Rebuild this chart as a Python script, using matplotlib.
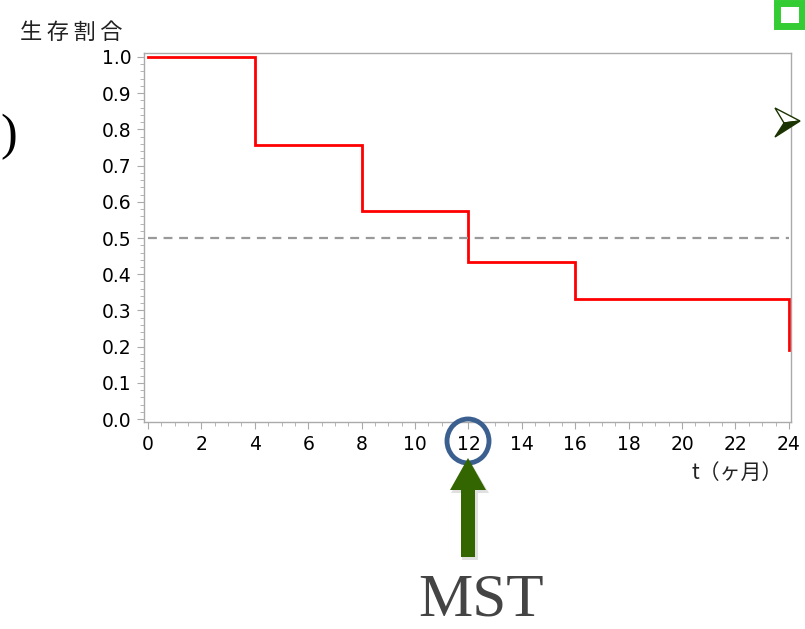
import matplotlib
matplotlib.use("Agg")
import matplotlib.pyplot as plt
from matplotlib.patches import Ellipse, Rectangle, Polygon, FancyArrow
from matplotlib.ticker import MultipleLocator

plt.rcParams['font.family'] = ['DejaVu Sans', 'Noto Sans CJK JP']

# 生存曲線のデータ
times = [0, 4, 8, 12, 16, 24]
survival = [1.0, 0.757, 0.575, 0.435, 0.331, 0.19]
x_ticks = list(range(0, 25, 2))
y_ticks = [i / 10 for i in range(11)]
mst = 12
median_level = 0.5

W, H = 805, 629
fig = plt.figure(figsize=(W / 100, H / 100), dpi=100)
ax = fig.add_axes([144 / W, 1 - 422 / H, (791 - 144) / W, (422 - 53) / H])

# ステップ状の生存曲線
xs, ys = [], []
for i, t in enumerate(times):
    if i > 0:
        xs.append(t)
        ys.append(survival[i - 1])
    xs.append(t)
    ys.append(survival[i])
ax.plot(xs, ys, color='red', lw=2, solid_joinstyle='miter')

ax.plot([times[0], times[-1]], [median_level, median_level], color='#999999', lw=1.6, ls=(0, (4, 3)))

ax.set_xlim(-0.15, 24.08)
ax.set_ylim(-0.008, 1.011)
ax.set_xticks(x_ticks)
ax.set_yticks(y_ticks)
ax.set_yticklabels([f"{v:.1f}" for v in y_ticks])
ax.xaxis.set_minor_locator(MultipleLocator(0.5))
ax.yaxis.set_minor_locator(MultipleLocator(0.02))
ax.tick_params(which='both', color='#aaaaaa', direction='out', labelsize=13.5, labelcolor='black')
ax.tick_params(which='major', length=5, pad=4)
ax.tick_params(which='minor', length=3)
for s in ax.spines.values():
    s.set_color('#aaaaaa')
    s.set_linewidth(1)

fig.text(20 / W, 1 - 32 / H, "生\u2009存\u2009割\u2009合", fontsize=16, va='center', ha='left',
         family=['Noto Sans CJK JP', 'DejaVu Sans'], color='#222222')
fig.text(783 / W, 1 - 473 / H, "t（ヶ月）", fontsize=15, va='center', ha='right',
         family=['Noto Sans CJK JP', 'DejaVu Sans'], color='#222222')

# 注釈：MST の丸と矢印
fig.patches.append(Ellipse((468 / W, 1 - 441 / H), 42 / W, 44 / H, transform=fig.transFigure,
                           fill=False, edgecolor='#3b6090', lw=3.5))
# 矢印の影
fig.patches.append(FancyArrow(470 / W, 1 - 560 / H, 0, (560 - 461) / H,
                              width=16 / W, head_width=38 / W, head_length=32 / H,
                              length_includes_head=True, transform=fig.transFigure,
                              color='#000000', alpha=0.12, lw=0))
fig.patches.append(FancyArrow(468 / W, 1 - 557 / H, 0, (557 - 458) / H,
                              width=14 / W, head_width=36 / W, head_length=32 / H,
                              length_includes_head=True, transform=fig.transFigure,
                              color='#336600', lw=0))
fig.text(481 / W, 1 - 601 / H, "MST", fontsize=44, ha='center', va='center',
         color='#444444', family='Liberation Serif')

fig.text(0, 1 - 137 / H, ")", fontsize=36, ha='left', va='center',
         color='black', family='Liberation Serif')

# 右上の飾り
fig.patches.append(Rectangle((777 / W, 1 - 26 / H), 25 / W, 23 / H, transform=fig.transFigure,
                             fill=True, facecolor='white', edgecolor='#33cc33', lw=5))
fig.patches.append(Polygon([(800 / W, 1 - 121 / H), (775 / W, 1 - 108 / H), (784 / W, 1 - 123 / H)],
                           closed=True, transform=fig.transFigure, facecolor='white',
                           edgecolor='#1a3300', lw=1))
fig.patches.append(Polygon([(800 / W, 1 - 121 / H), (784 / W, 1 - 123 / H), (775 / W, 1 - 137 / H)],
                           closed=True, transform=fig.transFigure, facecolor='#1a3300',
                           edgecolor='#1a3300', lw=1))

fig.savefig("out.png", dpi=100)
